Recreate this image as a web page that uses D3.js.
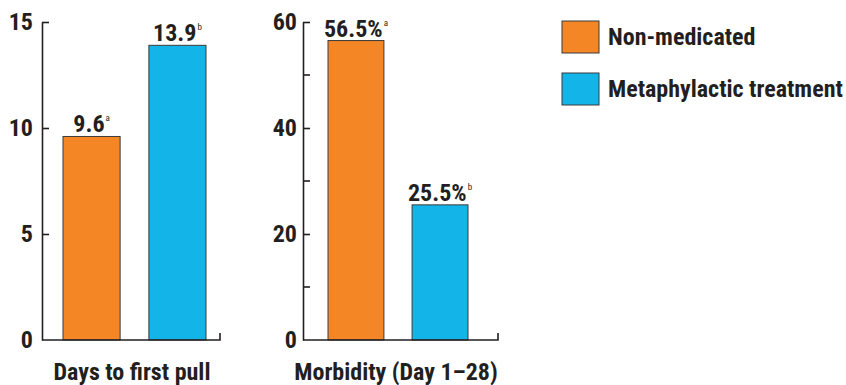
<!DOCTYPE html>
<html>
<head>
<meta charset="utf-8">
<script src="https://cdn.jsdelivr.net/npm/d3@7"></script>
<style>
  html, body { margin: 0; padding: 0; background: #fff; }
  svg { display: block; }
  text { font-family: "Liberation Sans Narrow", "Roboto Condensed", "DejaVu Sans Condensed", "Arial Narrow", sans-serif; font-weight: bold; font-stretch: condensed; fill: #231f20; }
</style>
</head>
<body>
<svg id="chart" width="846" height="385"></svg>
<script>
// ---- data ----
const seriesNames = ["Non-medicated", "Metaphylactic treatment"];
const seriesColors = ["#F58626", "#13B4E8"];
const panelTitles = ["Days to first pull", "Morbidity (Day 1–28)"];
const daysValues = [9.6, 13.9];
const daysLabels = ["9.6", "13.9"];
const morbidityValues = [56.5, 25.5];
const morbidityLabels = ["56.5%", "25.5%"];
const significance = ["a", "b"];
const daysTicks = [0, 5, 10, 15];
const morbidityTicks = [0, 20, 40, 60];
const morbidityMinorTicks = [10, 30, 50];

// ---- layout ----
const svg = d3.select("#chart");
const ink = "#231f20";
const y0 = 340, yTop = 22;

const panels = [
  { axisX: 42, endX: 220, bars: [63, 206], max: 15, values: daysValues, labels: daysLabels,
    ticks: daysTicks, minor: [], title: panelTitles[0], titleX: 132, pad: 9 },
  { axisX: 303, endX: 498, bars: [328, 468], max: 60, values: morbidityValues, labels: morbidityLabels,
    ticks: morbidityTicks, minor: morbidityMinorTicks, title: panelTitles[1], titleX: 396, pad: 6 }
];

panels.forEach(p => {
  const g = svg.append("g");
  const y = d3.scaleLinear().domain([0, p.max]).range([y0, yTop]);
  const x = d3.scaleBand().domain(seriesNames).range(p.bars).paddingInner(0.335).paddingOuter(0);

  // bars
  g.selectAll("rect.bar").data(p.values).join("rect")
    .attr("class", "bar")
    .attr("x", (d, i) => x(seriesNames[i]))
    .attr("width", x.bandwidth())
    .attr("y", d => y(d))
    .attr("height", d => y0 - y(d))
    .attr("fill", (d, i) => seriesColors[i])
    .attr("stroke", "#3a3a3a")
    .attr("stroke-width", 1);

  // value labels
  const lbl = g.selectAll("text.val").data(p.values).join("text")
    .attr("class", "val")
    .attr("x", (d, i) => x(seriesNames[i]) + x.bandwidth() / 2)
    .attr("y", d => y(d) - 4)
    .attr("text-anchor", "middle")
    .style("font-size", "24px");
  lbl.append("tspan").text((d, i) => p.labels[i]);
  lbl.append("tspan").text((d, i) => significance[i])
    .attr("dy", "-11").attr("dx", "1")
    .style("font-size", "9px").style("font-weight", "normal");

  // axis
  const axis = d3.axisLeft(y).tickValues(p.ticks).tickSize(-7).tickSizeOuter(0)
    .tickPadding(p.pad).tickFormat(d3.format("d"));
  const ag = g.append("g").attr("transform", `translate(${p.axisX},0)`).call(axis);
  ag.selectAll("path, line").attr("stroke", ink).attr("stroke-width", 1.6);
  ag.selectAll("text").style("font-size", "24px").attr("fill", ink);
  ag.select(".tick:first-of-type line").remove();

  // minor ticks
  g.selectAll("line.minor").data(p.minor).join("line")
    .attr("class", "minor")
    .attr("x1", p.axisX).attr("x2", p.axisX + 7)
    .attr("y1", d => y(d)).attr("y2", d => y(d))
    .attr("stroke", ink).attr("stroke-width", 1.6);

  // baseline with end tick
  g.append("path")
    .attr("d", `M${p.axisX},${y0}H${p.endX}V${y0 - 7}`)
    .attr("fill", "none").attr("stroke", ink).attr("stroke-width", 1.6);

  // title
  g.append("text")
    .attr("x", p.titleX).attr("y", 380)
    .attr("text-anchor", "middle")
    .style("font-size", "24px")
    .text(p.title);
});

// legend
const lg = svg.append("g");
seriesNames.forEach((s, i) => {
  const gy = 21 + i * 52;
  lg.append("rect").attr("x", 562).attr("y", gy).attr("width", 37).attr("height", 32)
    .attr("fill", seriesColors[i]).attr("stroke", "#3a3a3a").attr("stroke-width", 1);
  lg.append("text").attr("x", 608).attr("y", gy + 24)
    .style("font-size", "24px").text(s);
});
</script>
</body>
</html>
